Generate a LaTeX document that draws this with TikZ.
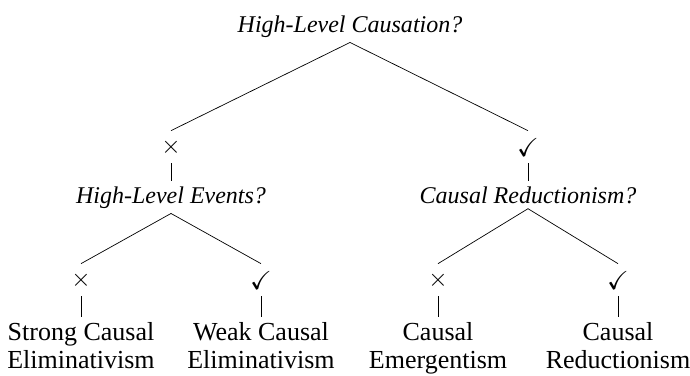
\documentclass[tikz,border=0pt]{standalone}
\usepackage{amssymb}
\usepackage{fontspec}
\setmainfont{Liberation Serif}

\begin{document}
\begin{tikzpicture}[x=1pt, y=-1pt, line width=0.7pt,
        font=\fontsize{26}{28}\selectfont,
        question/.style={inner sep=5pt, font=\fontsize{24}{28}\selectfont\itshape},
        answer/.style={inner sep=0pt, minimum height=32pt},
        outcome/.style={inner sep=5pt, align=center}]
        \useasboundingbox (0,0) rectangle (690,375);
        \pgfmathsetmacro{\spread}{90}
        % top question
        \node [question, anchor=base] (root) at (350, 32) {High-Level Causation?};
        \node [answer] (no) at (171, 147) {$\times$};
        \node [answer] (yes) at (528, 147) {\checkmark};
        \node [question, anchor=north] (events) at (171, 181) {High-Level Events?};
        \node [question, anchor=north] (reduct) at (528, 181) {Causal Reductionism?};
        % second level answers
        \node [answer] (nono) at ({171-\spread}, 280) {$\times$};
        \node [answer] (noyes) at ({171+\spread}, 280) {\checkmark};
        \node [answer] (yesno) at ({528-\spread}, 280) {$\times$};
        \node [answer] (yesyes) at ({528+\spread}, 280) {\checkmark};
        \node [outcome, anchor=north] (strong) at (nono.south |- 0, 317) {Strong Causal\\Eliminativism};
        \node [outcome, anchor=north] (weak) at (noyes.south |- 0, 317) {Weak Causal\\Eliminativism};
        \node [outcome, anchor=north] (emerg) at (yesno.south |- 0, 317) {Causal\\Emergentism};
        \node [outcome, anchor=north] (reduc) at (yesyes.south |- 0, 317) {Causal\\Reductionism};
        \foreach \a/\b in {root/no, root/yes, events/nono, events/noyes, reduct/yesno, reduct/yesyes}{
                \draw (\a.south) -- (\b.north);
            }
        \foreach \a/\b in {no/events, yes/reduct, nono/strong, noyes/weak, yesno/emerg, yesyes/reduc}{
                \draw (\a.south) -- (\b.north);
            }
    \end{tikzpicture}
\end{document}
